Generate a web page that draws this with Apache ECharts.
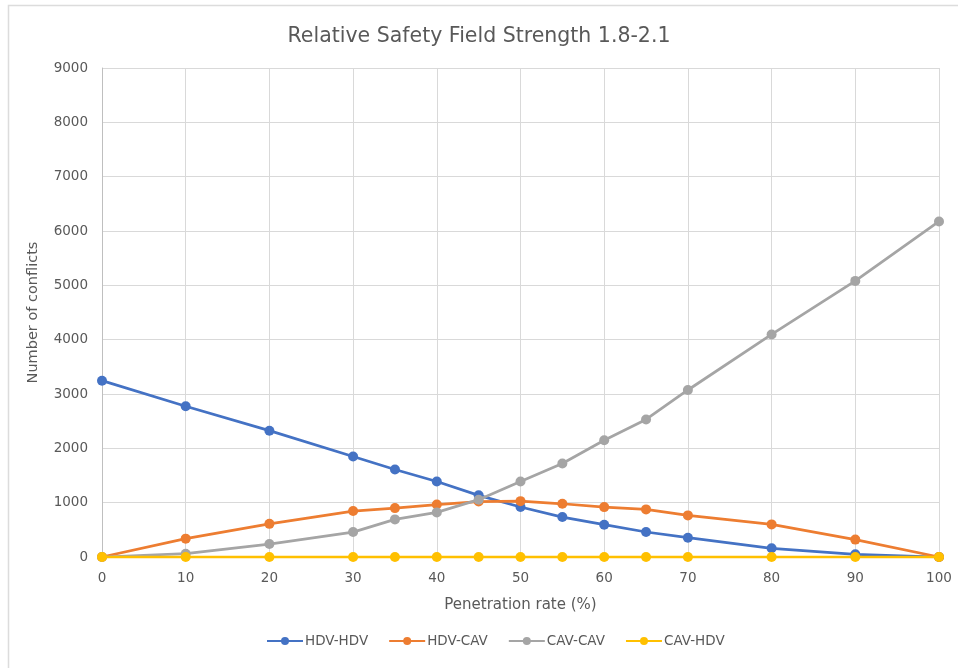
<!DOCTYPE html>
<html><head><meta charset="utf-8">
<script src="https://cdn.jsdelivr.net/npm/echarts@6/dist/echarts.min.js"></script>
<style>html,body{margin:0;padding:0;background:#fff}#c{width:958px;height:668px}</style>
</head><body><div id="c"></div>
<script>
const penetration = [0, 10, 20, 30, 35, 40, 45, 50, 55, 60, 65, 70, 80, 90, 100];
const hdvHdv = [3245, 2775, 2325, 1850, 1610, 1390, 1135, 920, 735, 595, 460, 355, 160, 50, 0];
const hdvCav = [0, 338, 610, 845, 900, 965, 1020, 1028, 980, 918, 876, 766, 600, 320, 0];
const cavCav = [0, 60, 239, 459, 692, 821, 1055, 1390, 1721, 2149, 2532, 3074, 4096, 5082, 6175];
const cavHdv = [0, 0, 0, 0, 0, 0, 0, 0, 0, 0, 0, 0, 0, 0, 0];
const seriesNames = ['HDV-HDV', 'HDV-CAV', 'CAV-CAV', 'CAV-HDV'];
const colors = ['#4472C4', '#ED7D31', '#A5A5A5', '#FFC000'];
const allData = [hdvHdv, hdvCav, cavCav, cavHdv];

const font = 'DejaVu Sans';
const chart = echarts.init(document.getElementById('c'), null, {renderer: 'canvas'});
chart.setOption({
  animation: false,
  textStyle: {fontFamily: font},
  title: {
    text: 'Relative Safety Field Strength 1.8-2.1',
    left: 'center', top: 21,
    textStyle: {fontFamily: font, fontSize: 20.5, fontWeight: 'normal', color: '#595959'}
  },
  graphic: [{
    type: 'rect', shape: {x: 8.5, y: 5.5, width: 980, height: 700},
    style: {fill: 'none', stroke: '#dcdcdc', lineWidth: 1.5}, silent: true
  }],
  grid: {left: 102, right: 19, top: 68, bottom: 111, containLabel: false},
  legend: {
    bottom: 15, left: 261, itemGap: 20, itemWidth: 36, itemHeight: 10,
    textStyle: {fontFamily: font, fontSize: 13.5, color: '#595959', padding: [0, 0, 0, -3]},
    data: seriesNames
  },
  xAxis: {
    type: 'value', min: 0, max: 100, interval: 10,
    name: 'Penetration rate (%)', nameLocation: 'middle', nameGap: 41,
    nameTextStyle: {fontFamily: font, fontSize: 15, color: '#595959'},
    axisLine: {show: true, lineStyle: {color: '#bfbfbf'}},
    axisTick: {show: false},
    axisLabel: {fontFamily: font, fontSize: 13.5, color: '#595959', margin: 14},
    splitLine: {show: true, lineStyle: {color: '#d9d9d9', width: 1}}
  },
  yAxis: {
    type: 'value', min: 0, max: 9000, interval: 1000,
    name: 'Number of conflicts', nameLocation: 'middle', nameGap: 61,
    nameTextStyle: {fontFamily: font, fontSize: 14.5, color: '#595959'},
    axisLine: {show: true, lineStyle: {color: '#bfbfbf'}},
    axisTick: {show: false},
    axisLabel: {fontFamily: font, fontSize: 13.5, color: '#595959', margin: 14, formatter: v => String(v)},
    splitLine: {show: true, lineStyle: {color: '#d9d9d9', width: 1}}
  },
  series: seriesNames.map((n, i) => ({
    name: n, type: 'line',
    data: penetration.map((x, j) => [x, allData[i][j]]),
    symbol: 'circle', symbolSize: 10,
    lineStyle: {color: colors[i], width: 2.75},
    itemStyle: {color: colors[i]},
    z: 2 + i
  }))
});
</script></body></html>
